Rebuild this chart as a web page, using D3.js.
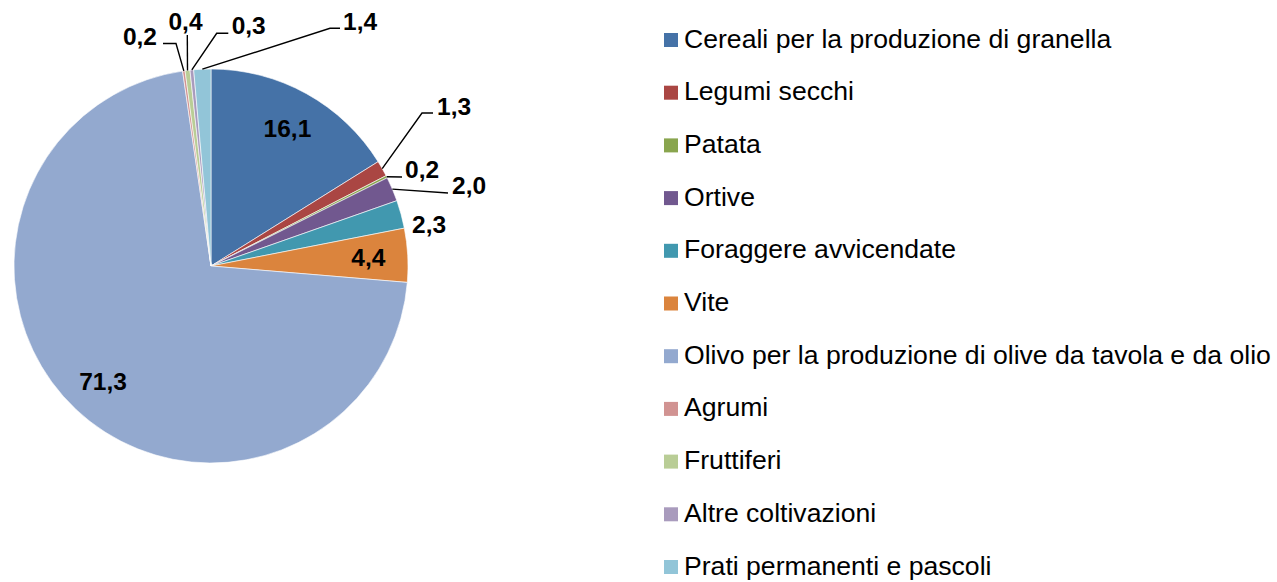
<!DOCTYPE html>
<html>
<head>
<meta charset="utf-8">
<script src="https://cdn.jsdelivr.net/npm/d3@7/dist/d3.min.js"></script>
<style>
  html, body { margin: 0; padding: 0; background: #fff; }
  svg { display: block; }
</style>
</head>
<body>
<svg id="chart" width="1277" height="582"></svg>
<script>
// ---- data ----
const categories = [
  "Cereali per la produzione di granella",
  "Legumi secchi",
  "Patata",
  "Ortive",
  "Foraggere avvicendate",
  "Vite",
  "Olivo per la produzione di olive da tavola e da olio",
  "Agrumi",
  "Fruttiferi",
  "Altre coltivazioni",
  "Prati permanenti e pascoli"
];
const values = [16.1, 1.3, 0.2, 2.0, 2.3, 4.4, 71.3, 0.2, 0.4, 0.3, 1.4];
const colors = ["#4572A7", "#AA4643", "#89A54E", "#71588F", "#4198AF", "#DB843D",
                "#93A9CF", "#D19392", "#B9CD96", "#A99BBD", "#92C5D8"];

// ---- label layout (relative to pie centre) ----
const labelLayout = [
  { type: "inside" },
  { type: "outside", anchor: "start",  at: [226, -160], leader: [[211, -153], [222, -153]] },
  { type: "outside", anchor: "start",  at: [194, -97],  leader: [[191, -89]] },
  { type: "outside", anchor: "start",  at: [241, -81],  leader: [[237, -73]] },
  { type: "outside", anchor: "start",  at: [201, -42],  leader: null },
  { type: "inside" },
  { type: "inside" },
  { type: "outside", anchor: "end",    at: [-54, -229.5], leader: [[-35, -222.5], [-48, -222.5]] },
  { type: "outside", anchor: "middle", at: [-25.5, -244.5], leader: [[-23.7, -231]] },
  { type: "outside", anchor: "start",  at: [20.7, -241], leader: [[5.7, -232.7], [17.3, -232.7]] },
  { type: "outside", anchor: "start",  at: [132, -245], leader: [[119, -237.7], [129, -237.7]] }
];

const fmt = v => d3.format(".1f")(v).replace(".", ",");

const svg = d3.select("#chart");
const cx = 211, cy = 266, R = 197;

const pie = d3.pie().sort(null).value(d => d).startAngle(0).endAngle(2 * Math.PI);
const arcs = pie(values);
const arc = d3.arc().innerRadius(0).outerRadius(R);
const arcEdge = d3.arc().innerRadius(R).outerRadius(R);
const arcLabel = d3.arc().innerRadius(0.8 * R).outerRadius(0.8 * R);

const g = svg.append("g").attr("transform", `translate(${cx},${cy})`);

g.selectAll("path.slice")
  .data(arcs)
  .enter().append("path")
  .attr("class", "slice")
  .attr("d", arc)
  .attr("fill", (d, i) => colors[i])
  .attr("stroke", "#ffffff")
  .attr("stroke-width", 0.6);

// leader lines
const line = d3.line();
arcs.forEach((d, i) => {
  const L = labelLayout[i];
  if (L.type === "outside" && L.leader) {
    const pts = [arcEdge.centroid(d)].concat(L.leader);
    g.append("path")
      .attr("d", line(pts))
      .attr("fill", "none")
      .attr("stroke", "#000")
      .attr("stroke-width", 1.4);
  }
});

// labels
arcs.forEach((d, i) => {
  const L = labelLayout[i];
  let x, y, anchor;
  if (L.type === "inside") {
    [x, y] = arcLabel.centroid(d);
    anchor = "middle";
  } else {
    [x, y] = L.at;
    anchor = L.anchor;
  }
  g.append("text")
    .attr("x", x)
    .attr("y", y)
    .attr("dy", "0.358em")
    .attr("text-anchor", anchor)
    .style("font-family", "'Liberation Sans', Arial, sans-serif")
    .attr("font-weight", "bold")
    .attr("font-size", 24.5)
    .attr("fill", "#000")
    .text(fmt(values[i]));
});

// legend
const legendY = d3.scalePoint().domain(d3.range(categories.length)).range([40, 567]);
const legend = svg.append("g");
const items = legend.selectAll("g.item")
  .data(categories)
  .enter().append("g")
  .attr("class", "item")
  .attr("transform", (d, i) => `translate(664,${legendY(i)})`);
items.append("rect")
  .attr("x", 0).attr("y", -7)
  .attr("width", 14).attr("height", 14)
  .attr("fill", (d, i) => colors[i]);
items.append("text")
  .attr("x", 20)
  .attr("y", 7.5)
  .style("font-family", "'Liberation Sans', Arial, sans-serif")
  .attr("font-size", 26.6)
  .attr("fill", "#000")
  .text(d => d);
</script>
</body>
</html>
